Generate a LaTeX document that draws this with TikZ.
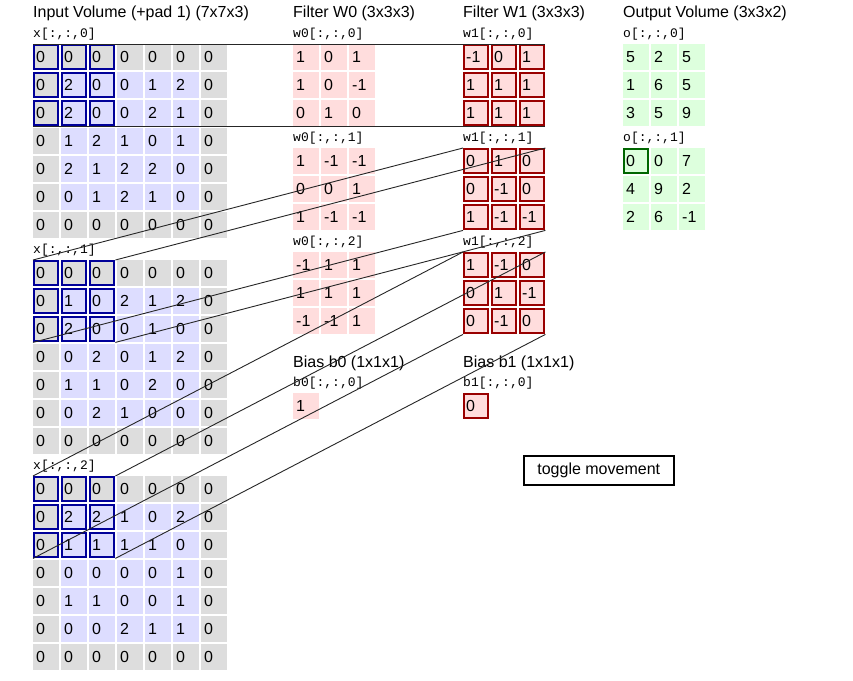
\documentclass[tikz,border=0pt]{standalone}
\usepackage{fontspec}
\setmainfont{Liberation Sans}
\newfontfamily\monof{Liberation Mono}
\definecolor{cG}{HTML}{DDDDDD}
\definecolor{cB}{HTML}{DDDDFF}
\definecolor{cR}{HTML}{FFDDDD}
\definecolor{cGr}{HTML}{DDFFDD}
\definecolor{winB}{HTML}{000099}
\definecolor{winR}{HTML}{990000}
\definecolor{winG}{HTML}{006600}
\begin{document}
\begin{tikzpicture}[x=1pt,y=1pt,
  cell/.style={anchor=north west,minimum width=26pt,minimum height=26pt,text width=20pt,inner xsep=3pt,inner ysep=0pt,align=left,font=\fontsize{16}{16}\selectfont},
  title/.style={anchor=west,inner sep=0pt,font=\fontsize{16}{16}\selectfont},
  lab/.style={anchor=west,inner sep=0pt,font=\monof\fontsize{13}{13}\selectfont},
  winb/.style={draw=winB,line width=2pt},
  winr/.style={draw=winR,line width=2pt},
  wing/.style={draw=winG,line width=2pt},
  conn/.style={draw=black!85,line width=0.9pt}]
\useasboundingbox (0,0) rectangle (853,-680);
\fill[white] (0,0) rectangle (853,-680);
% input grids
\def\ingrid#1#2#3{%
 \foreach \r [count=\i] in {#3}{\foreach \v [count=\j] in \r{%
   \pgfmathtruncatemacro\ee{(\i==1||\i==7||\j==1||\j==7)?1:0}%
   \ifnum\ee=1 \def\cc{cG}\else\def\cc{cB}\fi
   \node[cell,fill=\cc] (#1-\i-\j) at ({33+28*(\j-1)},{-(#2+28*(\i-1))}) {\v};}}}
\def\smgrid#1#2#3#4#5#6{% name, x, y, data, fill, extra
 \foreach \r [count=\i] in {#4}{\foreach \v [count=\j] in \r{%
   \node[cell,fill=#5,#6] (#1-\i-\j) at ({#2+28*(\j-1)},{-(#3+28*(\i-1))}) {\v};}}}
\node[title] (t0) at (33,-13) {Input Volume (+pad 1) (7x7x3)};
\node[title] (t1) at (293,-13) {Filter W0 (3x3x3)};
\node[title] (t2) at (463,-13) {Filter W1 (3x3x3)};
\node[title] (t3) at (623,-13) {Output Volume (3x3x2)};
\node[lab] (lx0) at (33,-34) {x[:,:,0]};
\node[lab] (lx1) at (33,-250) {x[:,:,1]};
\node[lab] (lx2) at (33,-466) {x[:,:,2]};
\ingrid{xa}{44}{{0,0,0,0,0,0,0},{0,2,0,0,1,2,0},{0,2,0,0,2,1,0},{0,1,2,1,0,1,0},{0,2,1,2,2,0,0},{0,0,1,2,1,0,0},{0,0,0,0,0,0,0}}
\ingrid{xb}{260}{{0,0,0,0,0,0,0},{0,1,0,2,1,2,0},{0,2,0,0,1,0,0},{0,0,2,0,1,2,0},{0,1,1,0,2,0,0},{0,0,2,1,0,0,0},{0,0,0,0,0,0,0}}
\ingrid{xc}{476}{{0,0,0,0,0,0,0},{0,2,2,1,0,2,0},{0,1,1,1,1,0,0},{0,0,0,0,0,1,0},{0,1,1,0,0,1,0},{0,0,0,2,1,1,0},{0,0,0,0,0,0,0}}
\foreach \g in {xa,xb,xc}{\foreach \i in {1,2,3}{\foreach \j in {1,2,3}{
  \draw[winb] ([shift={(1,-1)}]\g-\i-\j.north west) rectangle ([shift={(-1,1)}]\g-\i-\j.south east);}}}
% filters
\node[lab] (la0) at (293,-34) {w0[:,:,0]};
\node[lab] (la1) at (293,-138) {w0[:,:,1]};
\node[lab] (la2) at (293,-242) {w0[:,:,2]};
\node[lab] (lb0) at (463,-34) {w1[:,:,0]};
\node[lab] (lb1) at (463,-138) {w1[:,:,1]};
\node[lab] (lb2) at (463,-242) {w1[:,:,2]};
\smgrid{wa}{293}{44}{{1,0,1},{1,0,-1},{0,1,0}}{cR}{}
\smgrid{wb}{293}{148}{{1,-1,-1},{0,0,1},{1,-1,-1}}{cR}{}
\smgrid{wc}{293}{252}{{-1,1,1},{1,1,1},{-1,-1,1}}{cR}{}
\smgrid{va}{463}{44}{{-1,0,1},{1,1,1},{1,1,1}}{cR}{}
\smgrid{vb}{463}{148}{{0,1,0},{0,-1,0},{1,-1,-1}}{cR}{}
\smgrid{vc}{463}{252}{{1,-1,0},{0,1,-1},{0,-1,0}}{cR}{}
\foreach \g in {va,vb,vc}{\foreach \i in {1,2,3}{\foreach \j in {1,2,3}{
  \draw[winr] ([shift={(1,-1)}]\g-\i-\j.north west) rectangle ([shift={(-1,1)}]\g-\i-\j.south east);}}}
% output
\node[lab] (lo0) at (623,-34) {o[:,:,0]};
\node[lab] (lo1) at (623,-138) {o[:,:,1]};
\smgrid{oa}{623}{44}{{5,2,5},{1,6,5},{3,5,9}}{cGr}{}
\smgrid{ob}{623}{148}{{0,0,7},{4,9,2},{2,6,-1}}{cGr}{}
\draw[wing] ([shift={(1,-1)}]ob-1-1.north west) rectangle ([shift={(-1,1)}]ob-1-1.south east);
% biases
\node[title] (tb0) at (293,-363) {Bias b0 (1x1x1)};
\node[title] (tb1) at (463,-363) {Bias b1 (1x1x1)};
\node[lab] (lbb0) at (293,-383) {b0[:,:,0]};
\node[lab] (lbb1) at (463,-383) {b1[:,:,0]};
\node[cell,fill=cR] (b0) at (293,-393) {1};
\node[cell,fill=cR] (b1) at (463,-393) {0};
\draw[winr] ([shift={(1,-1)}]b1.north west) rectangle ([shift={(-1,1)}]b1.south east);
% connectors
\foreach \x/\w in {xa/va,xb/vb,xc/vc}{
  \draw[conn] (\x-1-1.north west) -- (\w-1-1.north west);
  \draw[conn] (\x-1-3.north east) -- (\w-1-3.north east);
  \draw[conn] (\x-3-1.south west) -- (\w-3-1.south west);
  \draw[conn] (\x-3-3.south east) -- (\w-3-3.south east);}
% button
\node[draw,line width=1.5pt,anchor=north west,minimum width=150pt,minimum height=29pt,inner sep=0pt,font=\fontsize{16}{16}\selectfont] (btn) at (523,-455) {toggle movement};
\end{tikzpicture}
\end{document}
